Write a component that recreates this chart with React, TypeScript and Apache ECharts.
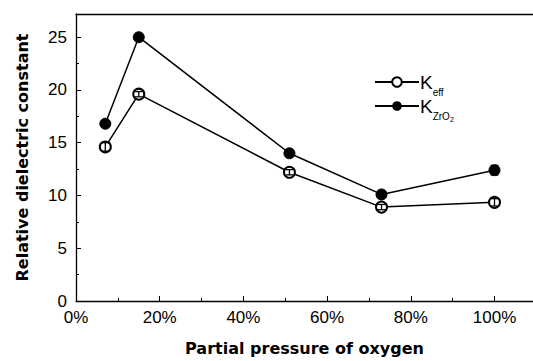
import React, { useEffect, useRef } from "react";
import * as echarts from "echarts";

const oxygen = [7, 15, 51, 73, 100];
const kEff = [14.6, 19.6, 12.2, 8.9, 9.35];
const kZrO2 = [16.8, 25.0, 14.0, 10.1, 12.4];
const kEffErr = [0.4, 0.25, 0.25, 0.25, 0.35];
const kZrO2Err = [0.2, 0.3, 0.3, 0.2, 0.45];
const xTicks = [0, 20, 40, 60, 80, 100];
const yTicks = [0, 5, 10, 15, 20, 25];

const errData = (vals: number[], errs: number[]) =>
  oxygen.map((x, i) => [x, vals[i] - errs[i], vals[i] + errs[i]]);

const errRender = (params: any, api: any) => {
  const x = api.value(0);
  const lo = api.coord([x, api.value(1)]);
  const hi = api.coord([x, api.value(2)]);
  const w = 4;
  const style = { stroke: "#000", lineWidth: 1.3 };
  return {
    type: "group",
    children: [
      { type: "line", shape: { x1: lo[0], y1: lo[1], x2: hi[0], y2: hi[1] }, style },
      { type: "line", shape: { x1: lo[0] - w, y1: lo[1], x2: lo[0] + w, y2: lo[1] }, style },
      { type: "line", shape: { x1: hi[0] - w, y1: hi[1], x2: hi[0] + w, y2: hi[1] }, style },
    ],
  };
};

export default function App() {
  const ref = useRef<HTMLDivElement>(null);
  useEffect(() => {
    if (!ref.current) return;
    const chart = echarts.init(ref.current, null, { renderer: "svg" });
    const font = "Liberation Sans, Arial, sans-serif";
    const nameFont = "DejaVu Sans, sans-serif";
    chart.setOption({
      animation: false,
      grid: { left: 76, right: 0, top: 14, bottom: 55 },
      legend: {
        orient: "vertical",
        left: 369,
        top: 68,
        itemWidth: 44,
        itemHeight: 12,
        itemGap: 0,
        data: ["Keff", "KZrO2"],
        formatter: (name: string) =>
          name === "Keff" ? "{k|K}{s|eff}" : "{k|K}{s|ZrO}{ss|2}",
        textStyle: {
          color: "#000",
          fontFamily: font,
          padding: [0, 0, 0, -4],
          rich: {
            k: { fontSize: 19, fontFamily: font, color: "#000", verticalAlign: "bottom", lineHeight: 20 },
            s: { fontSize: 10, fontFamily: font, color: "#000", verticalAlign: "bottom", padding: [0, 0, -5, 0], lineHeight: 12 },
            ss: { fontSize: 7, fontFamily: font, color: "#000", verticalAlign: "bottom", padding: [0, 0, -7, 0], lineHeight: 8 },
          },
        },
      },
      xAxis: [
        {
          type: "value",
          min: 0,
          max: 109.2,
          interval: 20,
          name: "Partial pressure of oxygen",
          nameLocation: "middle",
          nameGap: 39,
          nameTextStyle: { fontSize: 16, fontWeight: "bold", fontFamily: nameFont, color: "#000" },
          axisLine: { show: true, lineStyle: { color: "#000", width: 1.3 } },
          axisTick: { show: true, inside: true, length: 5, lineStyle: { color: "#000" } },
          minorTick: { show: true, splitNumber: 2, length: 3, lineStyle: { color: "#000" } },
          splitLine: { show: false },
          axisLabel: {
            showMaxLabel: false,
            fontSize: 17,
            fontFamily: font,
            color: "#000",
            margin: 8,
            formatter: (v: number) => (xTicks.includes(v) ? v + "%" : ""),
          },
        },
        {
          type: "value",
          position: "top",
          min: 0,
          max: 109.2,
          axisLine: { show: true, lineStyle: { color: "#000", width: 1.3 } },
          axisTick: { show: false },
          axisLabel: { show: false },
          splitLine: { show: false },
        },
      ],
      yAxis: {
        type: "value",
        min: 0,
        max: 27.2,
        interval: 5,
        name: "Relative dielectric constant",
        nameLocation: "middle",
        nameGap: 46,
        nameTextStyle: { fontSize: 16, fontWeight: "bold", fontFamily: nameFont, color: "#000" },
        axisLine: { show: true, lineStyle: { color: "#000", width: 1.3 } },
        axisTick: { show: true, inside: true, length: 5, lineStyle: { color: "#000" } },
        minorTick: { show: true, splitNumber: 2, length: 3, lineStyle: { color: "#000" } },
        splitLine: { show: false },
        axisLabel: {
          showMaxLabel: false,
          fontSize: 17,
          fontFamily: font,
          color: "#000",
          margin: 9,
          formatter: (v: number) => (yTicks.includes(v) ? String(v) : ""),
        },
      },
      series: [
        {
          name: "Keff",
          type: "line",
          data: oxygen.map((x, i) => [x, kEff[i]]),
          symbol: "emptyCircle",
          symbolSize: 11,
          lineStyle: { color: "#000", width: 1.5 },
          itemStyle: { color: "#000", borderColor: "#000", borderWidth: 1.5 },
          z: 3,
        },
        {
          name: "KZrO2",
          type: "line",
          data: oxygen.map((x, i) => [x, kZrO2[i]]),
          symbol: "circle",
          symbolSize: 11,
          lineStyle: { color: "#000", width: 1.5 },
          itemStyle: { color: "#000", borderColor: "#000" },
          z: 3,
        },
        {
          type: "custom",
          renderItem: errRender,
          data: errData(kEff, kEffErr),
          z: 5,
          silent: true,
        },
        {
          type: "custom",
          renderItem: errRender,
          data: errData(kZrO2, kZrO2Err),
          z: 5,
          silent: true,
        },
      ],
    });
    return () => chart.dispose();
  }, []);
  return (
    <div
      ref={ref}
      style={{ position: "fixed", left: 0, top: 0, width: 533, height: 361, background: "#fff" }}
    />
  );
}
